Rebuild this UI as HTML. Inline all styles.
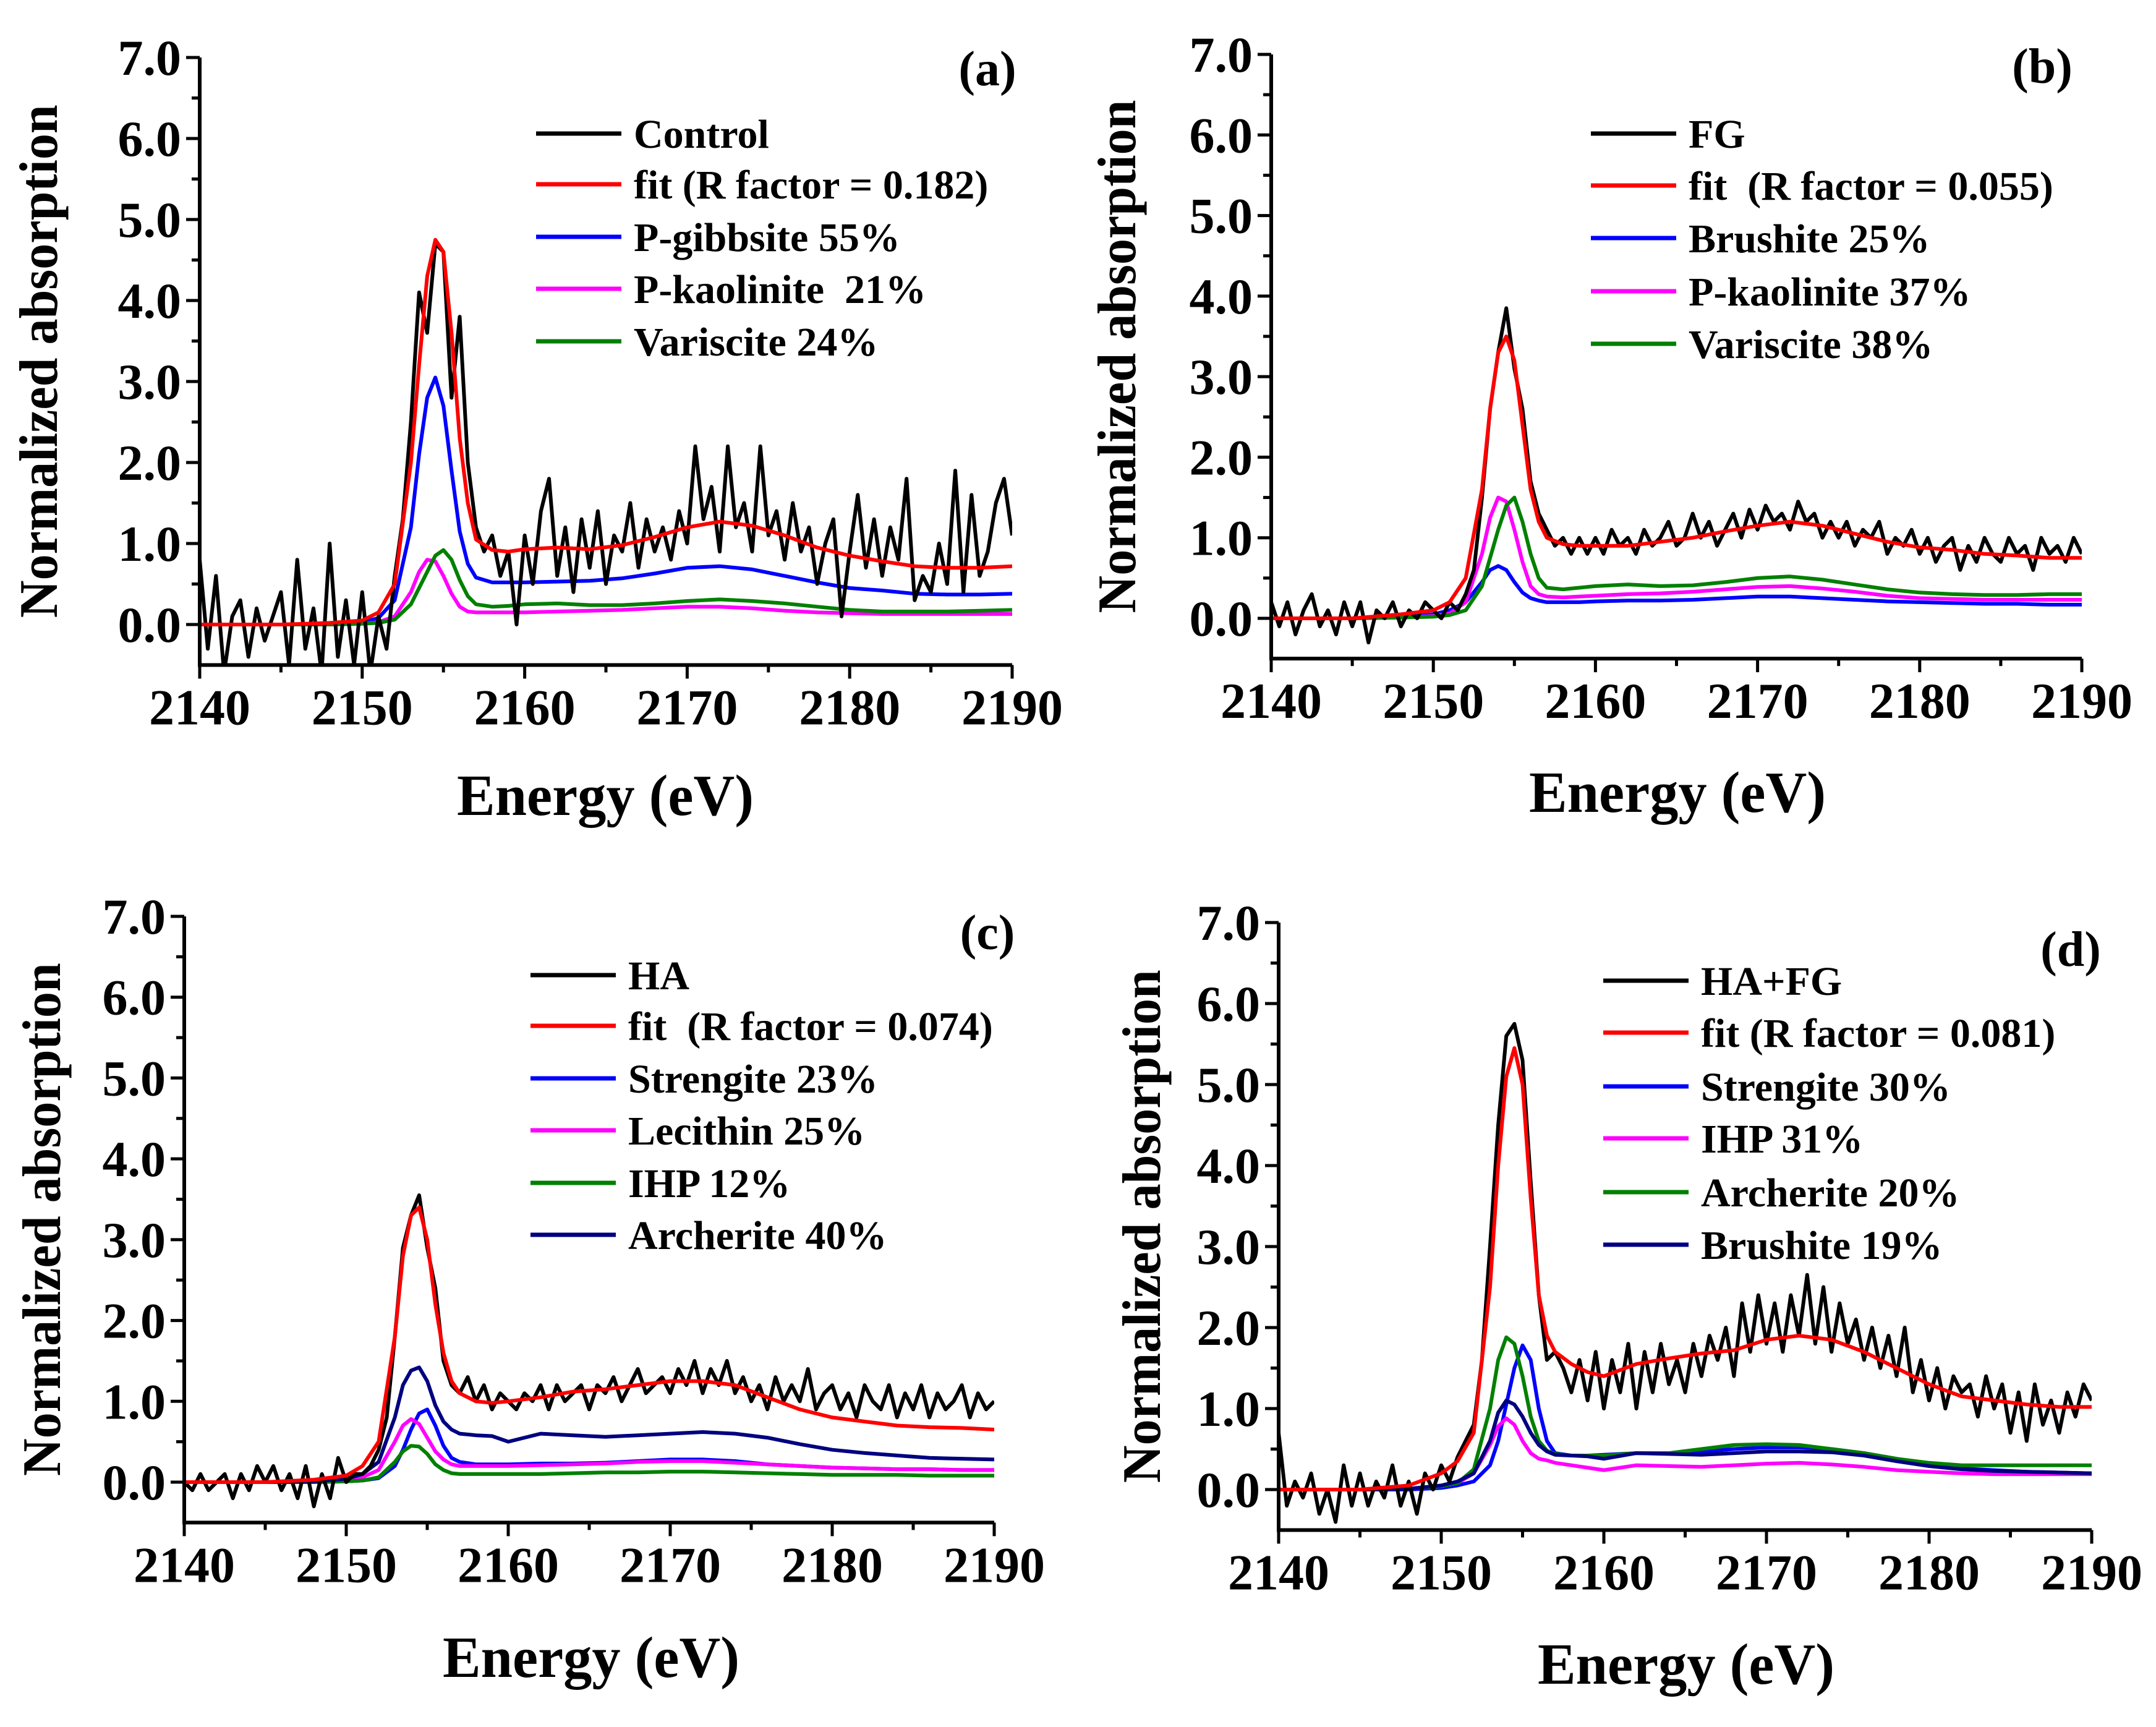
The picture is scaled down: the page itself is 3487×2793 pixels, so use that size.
<!DOCTYPE html>
<html><head><meta charset="utf-8"><style>
html,body{margin:0;padding:0;background:#fff;}
svg{display:block;}
text{font-family:"Liberation Serif",serif;font-weight:bold;fill:#000;}
</style></head>
<body>
<svg id="fig" width="3487" height="2793" viewBox="0 0 3487 2793" xmlns="http://www.w3.org/2000/svg"></svg>
<script>
// shared energy grid for smooth (fit/reference) curves
const smoothE = [2140,2145,2148,2150,2151,2152,2153,2153.5,2154,2154.5,2155,2155.5,2156,2156.5,2157,2158,2159,2160,2162,2164,2166,2168,2170,2172,2174,2176,2178,2180,2182,2184,2186,2188,2190];
// measured data grid: 2140..2190 step 0.5
const xTicks = [2140,2150,2160,2170,2180,2190];
const yTicks = ["0.0","1.0","2.0","3.0","4.0","5.0","6.0","7.0"];

// Panel (a)
const aBlack = [0.8,-0.3,0.6,-0.6,0.1,0.3,-0.4,0.2,-0.2,0.1,
 0.4,-0.5,0.8,-0.3,0.2,-0.6,1.0,-0.4,0.3,-0.5,
 0.4,-0.6,0.1,-0.3,0.6,1.3,2.5,4.1,3.6,4.7,
 4.6,2.8,3.8,2.0,1.2,0.9,1.1,0.6,0.9,0.0,
 1.1,0.5,1.4,1.8,0.6,1.2,0.4,1.3,0.7,1.4,
 0.5,1.1,0.9,1.5,0.7,1.3,0.9,1.2,0.8,1.4,
 1.0,2.2,1.3,1.7,0.9,2.2,1.2,1.5,0.9,2.2,
 1.1,1.4,0.8,1.5,0.9,1.2,0.5,1.0,1.3,0.1,
 0.9,1.6,0.7,1.3,0.6,1.2,0.8,1.8,0.3,0.6,
 0.4,1.0,0.5,1.9,0.4,1.6,0.6,0.9,1.5,1.8,
 1.1];
const aFit = [0,0,0.02,0.05,0.15,0.5,2.0,3.2,4.3,4.75,4.6,3.6,2.3,1.5,1.05,0.92,0.9,0.93,0.95,0.93,0.98,1.08,1.2,1.27,1.22,1.1,0.95,0.85,0.78,0.72,0.7,0.7,0.72];
const aGibbsite = [0,0,0.01,0.03,0.08,0.3,1.2,2.1,2.8,3.05,2.7,1.9,1.15,0.75,0.58,0.52,0.52,0.52,0.53,0.54,0.57,0.63,0.7,0.72,0.68,0.6,0.52,0.45,0.42,0.38,0.37,0.37,0.38];
const aKaolinite = [0,0,0,0.01,0.03,0.1,0.4,0.65,0.8,0.78,0.6,0.38,0.22,0.16,0.15,0.15,0.15,0.15,0.16,0.17,0.18,0.2,0.22,0.22,0.2,0.17,0.15,0.14,0.13,0.13,0.13,0.13,0.13];
const aVariscite = [0,0,0,0.01,0.02,0.06,0.25,0.45,0.65,0.85,0.92,0.8,0.55,0.35,0.25,0.22,0.23,0.25,0.26,0.24,0.24,0.26,0.29,0.31,0.29,0.26,0.22,0.18,0.16,0.16,0.16,0.17,0.18];

// Panel (b)
const bBlack = [0.2,-0.1,0.2,-0.2,0.1,0.3,-0.1,0.1,-0.2,0.2,
 -0.1,0.2,-0.3,0.1,0.0,0.2,-0.1,0.1,0.0,0.2,
 0.1,0.0,0.2,0.1,0.3,0.6,1.5,2.6,3.3,3.85,
 3.1,2.6,1.7,1.3,1.1,0.9,1.0,0.8,1.0,0.8,
 1.0,0.8,1.1,0.9,1.0,0.8,1.1,0.9,1.0,1.2,
 0.9,1.0,1.3,1.0,1.2,0.9,1.1,1.3,1.0,1.35,
 1.1,1.4,1.2,1.3,1.1,1.45,1.2,1.3,1.0,1.2,
 1.0,1.2,0.9,1.1,1.0,1.2,0.8,1.0,0.9,1.1,
 0.8,1.0,0.7,0.9,1.0,0.6,0.9,0.7,1.0,0.8,
 0.7,1.0,0.8,0.9,0.6,1.0,0.8,0.9,0.7,1.0,
 0.8];
const bFit = [0,0,0.05,0.1,0.2,0.5,1.6,2.6,3.3,3.5,3.2,2.4,1.6,1.2,1.0,0.92,0.9,0.9,0.9,0.95,1.0,1.08,1.15,1.2,1.15,1.05,0.95,0.88,0.85,0.8,0.78,0.75,0.75];
const bBrushite = [0,0,0.02,0.05,0.1,0.2,0.45,0.6,0.65,0.6,0.45,0.32,0.25,0.22,0.2,0.2,0.2,0.21,0.22,0.22,0.23,0.25,0.27,0.27,0.25,0.23,0.21,0.2,0.19,0.18,0.18,0.17,0.17];
const bKaolinite = [0,0,0.01,0.03,0.06,0.2,0.8,1.25,1.5,1.45,1.1,0.7,0.4,0.3,0.27,0.26,0.27,0.28,0.3,0.31,0.33,0.36,0.39,0.4,0.37,0.33,0.28,0.25,0.24,0.23,0.23,0.23,0.23];
const bVariscite = [0,0,0.01,0.02,0.04,0.1,0.4,0.75,1.1,1.4,1.5,1.2,0.8,0.5,0.38,0.36,0.38,0.4,0.42,0.4,0.41,0.45,0.5,0.52,0.48,0.42,0.36,0.32,0.3,0.29,0.29,0.3,0.3];

// Panel (c)
const cBlack = [0.0,-0.1,0.1,-0.1,0.0,0.1,-0.2,0.1,-0.1,0.2,
 0.0,0.2,-0.1,0.1,-0.2,0.2,-0.3,0.1,-0.2,0.3,
 0.0,0.1,0.1,0.2,0.4,0.8,1.8,2.9,3.3,3.55,
 2.9,2.4,1.5,1.2,1.1,1.3,1.0,1.2,0.9,1.1,
 1.0,0.9,1.1,1.0,1.2,0.9,1.2,1.0,1.1,1.2,
 0.9,1.2,1.1,1.3,1.0,1.2,1.4,1.1,1.2,1.3,
 1.1,1.4,1.2,1.5,1.1,1.4,1.2,1.5,1.1,1.3,
 1.0,1.2,0.9,1.3,1.0,1.2,1.0,1.4,0.9,1.1,
 1.2,0.9,1.1,0.8,1.2,1.0,0.9,1.2,0.8,1.1,
 0.9,1.2,0.8,1.1,0.9,1.0,1.2,0.8,1.1,0.9,
 1.0];
const cFit = [0,0,0.03,0.08,0.2,0.5,1.8,2.8,3.3,3.4,3.0,2.2,1.6,1.25,1.1,1.0,0.98,1.0,1.05,1.12,1.15,1.2,1.25,1.25,1.2,1.05,0.9,0.8,0.75,0.7,0.68,0.67,0.65];
const cStrengite = [0,0,0,0.01,0.02,0.05,0.2,0.4,0.65,0.85,0.9,0.7,0.45,0.3,0.25,0.22,0.22,0.22,0.23,0.23,0.24,0.26,0.28,0.28,0.26,0.22,0.2,0.18,0.17,0.16,0.16,0.15,0.15];
const cLecithin = [0,0,0.01,0.03,0.06,0.15,0.5,0.7,0.78,0.72,0.55,0.38,0.28,0.22,0.2,0.2,0.2,0.2,0.21,0.22,0.23,0.25,0.26,0.26,0.24,0.22,0.2,0.18,0.17,0.16,0.16,0.15,0.15];
const cIHP = [0,0,0,0.01,0.02,0.06,0.25,0.38,0.45,0.44,0.35,0.22,0.15,0.11,0.1,0.1,0.1,0.1,0.1,0.11,0.12,0.12,0.13,0.13,0.12,0.11,0.1,0.09,0.09,0.09,0.08,0.08,0.08];
const cArcherite = [0,0,0.01,0.04,0.1,0.25,0.8,1.2,1.38,1.42,1.25,0.95,0.75,0.65,0.6,0.58,0.57,0.5,0.6,0.58,0.56,0.58,0.6,0.62,0.6,0.55,0.47,0.4,0.36,0.33,0.3,0.29,0.28];

// Panel (d)
const dBlack = [0.7,-0.2,0.1,-0.1,0.2,-0.3,0.0,-0.4,0.3,-0.2,
 0.2,-0.2,0.1,-0.1,0.3,-0.2,0.1,-0.3,0.2,0.0,
 0.3,0.1,0.4,0.6,0.8,1.6,3.0,4.5,5.6,5.75,
 5.3,3.8,2.4,1.6,1.7,1.5,1.2,1.6,1.1,1.7,
 1.0,1.6,1.2,1.8,1.0,1.7,1.2,1.8,1.3,1.6,
 1.2,1.8,1.4,1.9,1.6,2.0,1.4,2.3,1.7,2.4,
 1.8,2.3,1.7,2.4,1.9,2.65,1.8,2.5,1.7,2.3,
 1.8,2.1,1.6,2.0,1.5,1.9,1.4,2.0,1.2,1.6,
 1.1,1.5,1.0,1.4,1.2,1.3,0.9,1.4,1.0,1.3,
 0.7,1.2,0.6,1.3,0.8,1.1,0.7,1.2,0.9,1.3,
 1.1];
const dFit = [0,0,0.05,0.2,0.35,0.7,2.5,4.0,5.1,5.45,5.0,3.6,2.4,1.9,1.7,1.55,1.45,1.4,1.55,1.62,1.68,1.72,1.85,1.9,1.85,1.7,1.5,1.3,1.15,1.1,1.05,1.02,1.02];
const dStrengite = [0,0,0,0.02,0.05,0.1,0.3,0.6,1.05,1.5,1.78,1.6,1.0,0.6,0.45,0.42,0.42,0.43,0.45,0.45,0.47,0.5,0.52,0.52,0.5,0.45,0.38,0.3,0.26,0.24,0.22,0.21,0.2];
const dIHP = [0,0,0.01,0.04,0.08,0.2,0.55,0.78,0.88,0.8,0.6,0.45,0.38,0.36,0.33,0.3,0.27,0.24,0.3,0.29,0.28,0.3,0.32,0.33,0.31,0.28,0.24,0.22,0.2,0.19,0.19,0.19,0.19];
const dArcherite = [0,0,0.01,0.04,0.08,0.25,1.0,1.6,1.88,1.8,1.4,0.9,0.6,0.48,0.44,0.42,0.42,0.42,0.45,0.45,0.5,0.55,0.56,0.55,0.5,0.45,0.38,0.33,0.3,0.3,0.3,0.3,0.3];
const dBrushite = [0,0,0.01,0.05,0.1,0.2,0.6,0.95,1.1,1.05,0.9,0.7,0.55,0.47,0.43,0.42,0.41,0.38,0.45,0.44,0.43,0.45,0.47,0.47,0.46,0.42,0.35,0.29,0.25,0.23,0.22,0.21,0.2];

const NS = "http://www.w3.org/2000/svg";
const svg = document.getElementById('fig');
function mk(tag, attrs, parent) {
  const el = document.createElementNS(NS, tag);
  for (const k in attrs) el.setAttribute(k, attrs[k]);
  (parent || svg).appendChild(el);
  return el;
}
const COL = {black:'#000', red:'#ff0000', blue:'#0000ff', pink:'#ff00ff', green:'#008000', navy:'#000080'};

const panels = [
 {id:'a', x0:323, x1:1637, y7:93, y0:1010, tag:'(a)', tagX:1597, tagY:138,
  legX:867, legRows:[216,298,383,467,552], titleX:979, titleY:1318, yTitleX:62,
  series:[['Control','black',null,aBlack],['fit (R factor = 0.182)','red',smoothE,aFit],['P-gibbsite 55%','blue',smoothE,aGibbsite],['P-kaolinite  21%','pink',smoothE,aKaolinite],['Variscite 24%','green',smoothE,aVariscite]]},
 {id:'b', x0:2056, x1:3367, y7:88, y0:1000, tag:'(b)', tagX:3303, tagY:134,
  legX:2573, legRows:[216,300,385,471,556], titleX:2713, titleY:1313, yTitleX:1806,
  series:[['FG','black',null,bBlack],['fit  (R factor = 0.055)','red',smoothE,bFit],['Brushite 25%','blue',smoothE,bBrushite],['P-kaolinite 37%','pink',smoothE,bKaolinite],['Variscite 38%','green',smoothE,bVariscite]]},
 {id:'c', x0:298, x1:1608, y7:1482, y0:2397, tag:'(c)', tagX:1597, tagY:1535,
  legX:858, legRows:[1577,1659,1744,1828,1913,1997], titleX:956, titleY:2712, yTitleX:67,
  series:[['HA','black',null,cBlack],['fit  (R factor = 0.074)','red',smoothE,cFit],['Strengite 23%','blue',smoothE,cStrengite],['Lecithin 25%','pink',smoothE,cLecithin],['IHP 12%','green',smoothE,cIHP],['Archerite 40%','navy',smoothE,cArcherite]]},
 {id:'d', x0:2068, x1:3383, y7:1492, y0:2409, tag:'(d)', tagX:3349, tagY:1562,
  legX:2593, legRows:[1586,1670,1757,1841,1928,2013], titleX:2727, titleY:2723, yTitleX:1846,
  series:[['HA+FG','black',null,dBlack],['fit (R factor = 0.081)','red',smoothE,dFit],['Strengite 30%','blue',smoothE,dStrengite],['IHP 31%','pink',smoothE,dIHP],['Archerite 20%','green',smoothE,dArcherite],['Brushite 19%','navy',smoothE,dBrushite]]}
];

panels.forEach(p => {
  const unit = (p.y0 - p.y7) / 7;
  const yb = p.y0 + 0.5 * unit;
  const X = e => p.x0 + (e - 2140) / 50 * (p.x1 - p.x0);
  const Y = v => p.y0 - v * unit;
  const g = mk('g', {});
  
  

  const defs = mk('defs', {}, g);
  const cp = mk('clipPath', {id:'clip-' + p.id}, defs);
  mk('rect', {x:p.x0, y:p.y7 - 40, width:p.x1 - p.x0, height:yb - p.y7 + 40}, cp);

  const sg = mk('g', {'clip-path':'url(#clip-' + p.id + ')'}, g);
  
  
  const order = p.series.slice(2).concat([p.series[0], p.series[1]]);
  order.forEach(s => {
    const vals = s[3];
    const xs = s[2] || vals.map((_, i) => 2140 + i * 0.5);
    const d = vals.map((v, i) => (i ? 'L' : 'M') + X(xs[i]).toFixed(1) + ' ' + Y(v).toFixed(1)).join(' ');
    const path = mk('path', {d:d, fill:'none', stroke:COL[s[1]], 'stroke-width':6, 'stroke-linejoin':'round'}, sg);
    
    
  });

  const ax = mk('path', {d:`M${p.x0} ${p.y7} L${p.x0} ${yb} L${p.x1} ${yb}`, fill:'none', stroke:'#000', 'stroke-width':6}, g);
  
  

  for (let k = 0; k <= 14; k++) {
    const v = k * 0.5, y = Y(v), major = k % 2 === 0;
    mk('line', {x1:p.x0 - (major ? 22 : 13), x2:p.x0, y1:y, y2:y, stroke:'#000', 'stroke-width':5}, g);
  }
  yTicks.forEach((t, i) => {
    const tx = mk('text', {x:p.x0 - 30, y:Y(i) + 28, 'text-anchor':'end', 'font-size':82}, g);
    tx.textContent = t;
    
    
  });
  for (let e = 2140; e <= 2190; e += 5) {
    const major = (e % 10 === 0);
    mk('line', {x1:X(e), x2:X(e), y1:yb, y2:yb + (major ? 22 : 12), stroke:'#000', 'stroke-width':5}, g);
  }
  xTicks.forEach(t => {
    const tx = mk('text', {x:X(t), y:yb + 96, 'text-anchor':'middle', 'font-size':82}, g);
    tx.textContent = t;
    
    
  });

  const xt = mk('text', {x:p.titleX, y:p.titleY, 'text-anchor':'middle', 'font-size':94, textLength:480, lengthAdjust:'spacingAndGlyphs'}, g);
  xt.textContent = 'Energy (eV)';
  
  
  const ymid = (p.y7 + yb) / 2;
  const yt = mk('text', {x:p.yTitleX, y:ymid, 'text-anchor':'middle', 'font-size':88, textLength:830, lengthAdjust:'spacingAndGlyphs', transform:`rotate(-90 ${p.yTitleX} ${ymid}) translate(0 30)`}, g);
  yt.textContent = 'Normalized absorption';
  
  

  const pt = mk('text', {x:p.tagX, y:p.tagY, 'text-anchor':'middle', 'font-size':80}, g);
  pt.textContent = p.tag;
  
  

  p.series.forEach((s, i) => {
    const ry = p.legRows[i];
    const le = mk('g', {}, g);
    
    
    mk('line', {x1:p.legX, x2:p.legX + 138, y1:ry, y2:ry, stroke:COL[s[1]], 'stroke-width':7}, le);
    const lt = mk('text', {x:p.legX + 158, y:ry + 23, 'font-size':66}, le);
    lt.textContent = s[0];
    lt.setAttribute('xml:space', 'preserve');
    lt.style.whiteSpace = 'pre';
  });
});
</script>
</body></html>
